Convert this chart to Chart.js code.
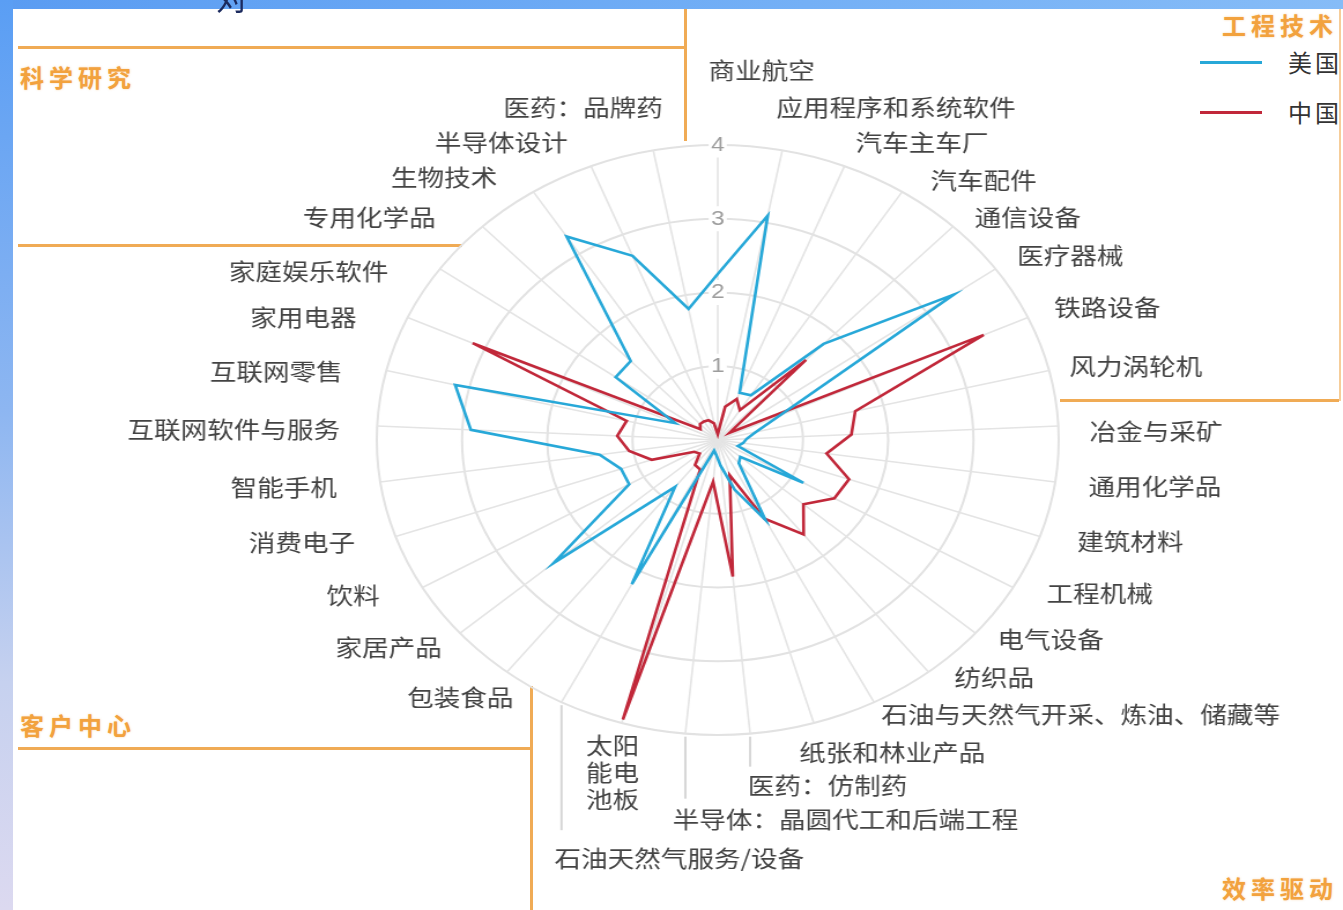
<!DOCTYPE html>
<html>
<head>
<meta charset="utf-8">
<script src="https://cdn.jsdelivr.net/npm/chart.js@4.4.1/dist/chart.umd.min.js"></script>
<style>
html,body{margin:0;padding:0;width:1343px;height:910px;overflow:hidden;background:#fff;}
#stage{position:relative;width:1343px;height:910px;background:#fff;overflow:hidden;}
#topbar{position:absolute;left:0;top:0;width:1343px;height:9px;background:linear-gradient(90deg,#5a9cf2,#74b0f6 60%,#86bcf7);}
#leftbar{position:absolute;left:0;top:0;width:13px;height:910px;background:linear-gradient(180deg,#5a9ef4 0%,#8db6f1 45%,#c6d1ef 75%,#dcd9f0 100%);}
#toptxt{position:absolute;left:216px;top:-27px;font-family:"Noto Sans CJK SC";font-size:32px;color:#1b2a5e;}
.ol{position:absolute;background:#f0ab55;}
.sec{position:absolute;font-family:"Noto Sans CJK SC";font-weight:700;font-size:24px;letter-spacing:5px;color:#f2a23e;line-height:30px;white-space:nowrap;text-shadow:0 0 2px rgba(242,162,62,0.5);}
#legend{position:absolute;left:1200px;top:45px;font-family:"Noto Sans CJK SC";font-size:24px;letter-spacing:3px;color:#333;}
.lg{position:absolute;left:0;width:150px;height:34px;white-space:nowrap;}
.lg i{position:absolute;left:0;top:16px;width:62px;height:3px;}
.lg span{position:absolute;left:88px;top:0;line-height:34px;}
canvas#c{position:absolute;left:0;top:0;}
</style>
</head>
<body>
<div id="stage">
  <div class="ol" style="left:18px;top:46px;width:668px;height:3px;"></div>
  <div class="ol" style="left:684px;top:9px;width:3px;height:132px;"></div>
  <div class="ol" style="left:18px;top:244px;width:444px;height:3px;"></div>
  <div class="ol" style="left:1060px;top:399px;width:279px;height:3px;"></div>
  <div class="ol" style="left:1339px;top:9px;width:2px;height:392px;opacity:0.6;"></div>
  <div class="ol" style="left:18px;top:747px;width:514px;height:3px;"></div>
  <div class="ol" style="left:530px;top:686px;width:3px;height:224px;"></div>
  <div class="sec" style="left:20px;top:62px;">科学研究</div>
  <div class="sec" style="left:1222px;top:10px;">工程技术</div>
  <div class="sec" style="left:20px;top:710px;">客户中心</div>
  <div class="sec" style="left:1222px;top:873px;">效率驱动</div>
  <div id="legend"></div>
  <canvas id="c" width="1162" height="910" style="width:1343px;height:910px;"></canvas>
  <div id="topbar"></div>
  <div id="leftbar"></div>
  <div id="toptxt">对</div>
</div>
<script>
// ---- data ----
const categories = [
  '商业航空','应用程序和系统软件','汽车主车厂','汽车配件','通信设备','医疗器械','铁路设备',
  '风力涡轮机','冶金与采矿','通用化学品','建筑材料','工程机械','电气设备','纺织品',
  '石油与天然气开采、炼油、储藏等','纸张和林业产品','医药：仿制药','半导体：晶圆代工和后端工程',
  '太阳能电池板','石油天然气服务/设备','包装食品','家居产品','饮料','消费电子','智能手机',
  '互联网软件与服务','互联网零售','家用电器','家庭娱乐软件','专用化学品','生物技术',
  '半导体设计','医药：品牌药'
];
const seriesNames = ['美国', '中国'];
const usValues = [2.25, 3.1, 0.69, 0.72, 1.8, 3.4, 0.8, 0.46, 0.34, 0.3, 0.25, 1.16, 0.35, 0.4, 1.22, 0.7, 0.35, 0.2, 0.15, 2.2, 0.81, 2.55, 1.2, 1.2, 1.4, 2.9, 3.17, 0.55, 1.47, 1.48, 3.28, 2.69, 1.81];
const cnValues = [0.08, 0.46, 0.6, 0.48, 1.5, 0.17, 3.43, 1.66, 1.57, 1.29, 1.63, 1.58, 1.33, 1.63, 1.2, 0.5, 1.86, 0.57, 3.95, 0.45, 0.43, 0.28, 0.32, 0.82, 1.05, 1.18, 1.1, 3.16, 0.25, 0.3, 0.3, 0.29, 0.23];
const radialTicks = [0, 1, 2, 3, 4];

// ---- styling / label layout (not data) ----
const seriesColors = ['#27a8d8', '#c1283a'];
const labelLayout = [
  {pad:75, dx:-8, align:'left'}, {pad:42, dx:-13, dy:-2}, {pad:26}, {pad:25, dx:11, dy:9},
  {pad:20, dx:5, dy:5}, {pad:23}, {pad:25},
  {pad:18}, {pad:27, dy:7}, {pad:29}, {pad:32, dx:2, dy:-6}, {pad:29, dx:4, dy:-9},
  {pad:20, dx:4, dy:-7}, {pad:20, dx:10, dy:-10},
  {pad:14}, {pad:30, dx:-21}, {pad:0, dx:-2, dy:52, leader:33, align:'left'},
  {pad:0, dx:-11, dy:86, leader:65, align:'left'},
  {pad:0, dx:-8, dy:22, wrap:2, lh:27, align:'center'},
  {pad:0, dx:-6, dy:156, leader:128, align:'left'},
  {pad:17, dx:16, dy:12}, {pad:21}, {pad:37, dx:-5, dy:-11}, {pad:37, dy:-6}, {pad:38},
  {pad:32, dy:5}, {pad:39, dy:10}, {pad:42, dx:-6, dy:17},
  {pad:39, dx:-13, dy:25}, {pad:37, dx:-15, dy:18}, {pad:32, dx:-14, dy:12},
  {pad:30, dx:-9, dy:4}, {pad:41, dx:16, dy:-3}
];

const customLabels = {
  id: 'customPointLabels',
  afterDraw(chart) {
    const scale = chart.scales.r;
    const ctx = chart.ctx;
    ctx.save();
    ctx.font = '23px "Noto Sans CJK SC"';
    ctx.fillStyle = '#434343';
    ctx.textBaseline = 'middle';
    chart.data.labels.forEach((label, i) => {
      const L = labelLayout[i] || {};
      const ring = scale.getPointPosition(i, scale.drawingArea);
      const p = scale.getPointPosition(i, scale.drawingArea + (L.pad || 0));
      const align = L.align || (p.x > scale.xCenter + 1 ? 'left' : (p.x < scale.xCenter - 1 ? 'right' : 'center'));
      if (L.leader) {
        ctx.save();
        ctx.strokeStyle = '#d6d6d6';
        ctx.lineWidth = 2;
        ctx.beginPath();
        ctx.moveTo(ring.x, ring.y + 3);
        ctx.lineTo(ring.x, ring.y + L.leader);
        ctx.stroke();
        ctx.restore();
      }
      ctx.textAlign = align;
      const x = p.x + (L.dx || 0), y = p.y + (L.dy || 0);
      let lines = [label];
      if (L.wrap) {
        lines = [];
        for (let k = 0; k < label.length; k += L.wrap) lines.push(label.slice(k, k + L.wrap));
      }
      lines.forEach((t, k) => ctx.fillText(t, x, y + k * (L.lh || 27)));
    });
    ctx.restore();
  }
};

const chart = new Chart(document.getElementById('c'), {
  type: 'radar',
  data: {
    labels: categories,
    datasets: [
      {label: seriesNames[0], data: usValues, borderColor: seriesColors[0], backgroundColor: seriesColors[0],
       borderWidth: 2.6, pointRadius: 0, pointHoverRadius: 0, fill: false, tension: 0},
      {label: seriesNames[1], data: cnValues, borderColor: seriesColors[1], backgroundColor: seriesColors[1],
       borderWidth: 2.6, pointRadius: 0, pointHoverRadius: 0, fill: false, tension: 0}
    ]
  },
  options: {
    responsive: false,
    animation: false,
    devicePixelRatio: 1,
    layout: {padding: {left: 221, right: 141, top: 133, bottom: 162}},
    plugins: {legend: {display: false}, tooltip: {enabled: false}},
    elements: {line: {borderJoinStyle: 'miter'}},
    scales: {
      r: {
        min: 0, max: 4,
        afterBuildTicks: (s) => { s.ticks = radialTicks.map(v => ({value: v})); },
        grid: {circular: true, color: '#e2e2e2', lineWidth: 2},
        angleLines: {color: '#e4e4e4', lineWidth: 1.6},
        pointLabels: {display: false},
        ticks: {
          color: '#9d9d9d',
          font: {size: 21, family: '"Liberation Sans", Arial, sans-serif'},
          showLabelBackdrop: true, backdropColor: '#ffffff', backdropPadding: 2
        }
      }
    }
  },
  plugins: [customLabels]
});

// HTML legend built from the chart's datasets
const lg = document.getElementById('legend');
chart.data.datasets.forEach((ds, i) => {
  const row = document.createElement('div');
  row.className = 'lg';
  row.style.top = (i * 50) + 'px';
  row.innerHTML = '<i style="background:' + ds.borderColor + '"></i><span>' + ds.label + '</span>';
  lg.appendChild(row);
});
</script>
</body>
</html>
